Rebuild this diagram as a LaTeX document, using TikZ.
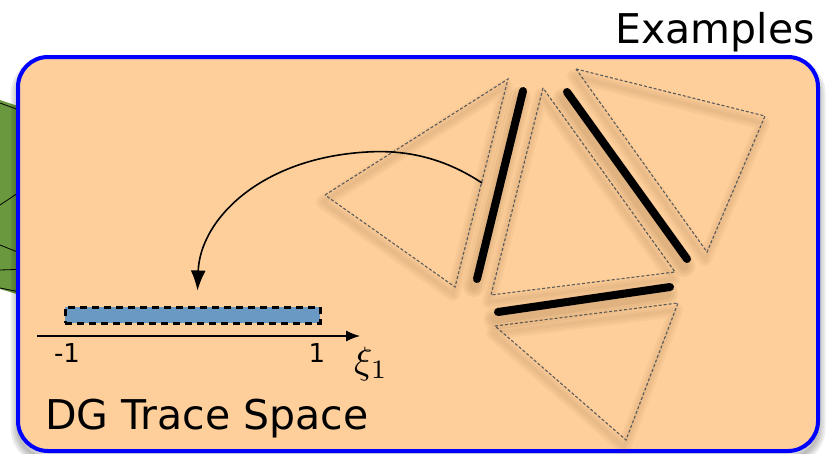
\documentclass[tikz,border=0pt]{standalone}
\usepackage{fontspec}
\setmainfont{DejaVu Sans}
\usetikzlibrary{arrows.meta,calc}
\definecolor{Peach}{HTML}{FECF9B}
\definecolor{FrameBlue}{HTML}{0000FF}
\definecolor{BarBlue}{HTML}{6A9AC4}
\definecolor{MeshGreen}{HTML}{6A983E}
\definecolor{EdgeGray}{HTML}{5A5A5A}
\definecolor{ShadowBrown}{HTML}{7A5020}
\newcommand{\elemtri}[3]{%
  \foreach \w in {4,9,14} \draw[ShadowBrown, opacity=.05, line width=\w pt, line join=round, shift={(-2,7)}] #1 -- #2 -- #3 -- cycle;
  \draw[elem] #1 -- #2 -- #3 -- cycle;}
\newcommand{\traceline}[2]{%
  \foreach \w in {10,16,22} \draw[ShadowBrown, opacity=.08, line width=\w pt, line cap=round, shift={(-3,7)}] #1 -- #2;
  \draw[trace] #1 -- #2;}

\begin{document}
\begin{tikzpicture}[x=1pt, y=-1pt, >=Latex,
  elem/.style={EdgeGray, line width=1.1pt, dash pattern=on 3pt off 2pt},
  trace/.style={black, line width=8pt, line cap=round},
  big/.style={font=\fontsize{41}{49}\selectfont, inner sep=0pt},
  tick/.style={font=\fontsize{26}{30}\selectfont, inner sep=0pt}]
\useasboundingbox (0,0) rectangle (828,453);
\fill[MeshGreen] (0,100) -- (30,110) -- (30,298) -- (0,289) -- cycle;
\draw[black, line width=0.8pt] (0,103) -- (30,114) (0,205) -- (30,185) (0,245) -- (30,257) (0,270) -- (30,269) (0,288) -- (30,294);
\foreach \w in {3,7,11,15} \draw[black, opacity=.07, line width=\w pt, rounded corners=30pt] (18,64) rectangle (818,458);
\node[draw=FrameBlue, line width=4pt, fill=Peach, rounded corners=30pt, minimum width=800pt, minimum height=394pt, inner sep=0pt] (panel) at (418,254) {};
\node[big, anchor=base east] (examples) at (815,43) {Examples};
\node[big, anchor=base west] (dgtrace) at (45,429) {DG Trace Space};
\elemtri{(325,195)}{(508,79)}{(455,287)}
\elemtri{(543,88)}{(491,295)}{(675,272)}
\elemtri{(576,69)}{(765,116)}{(707,252)}
\elemtri{(495,326)}{(678,303)}{(626,440)}
\traceline{(523,91)}{(477,279)}
\traceline{(567,92)}{(687,259)}
\traceline{(498,312)}{(670,287)}
\node[draw=black, fill=BarBlue, line width=3pt, dash pattern=on 7pt off 5pt, minimum width=255pt, minimum height=16pt, inner sep=0pt] (bar) at (192.5,315) {};
\coordinate (axl) at (37,336);
\coordinate (axr) at (360,336);
\draw[line width=1.2pt, -{Latex[length=14pt,width=11pt]}] (axl) -- (axr);
\node[tick, anchor=base] (lo) at (67,362) {-1};
\node[tick, anchor=base] (hi) at (317,362) {1};
\node[anchor=base west, inner sep=0pt] (xi) at (354,373) {\scalebox{3.8}{$\xi_1$}};
\coordinate (src) at (482,183);
\draw[line width=1.6pt, -{Latex[length=20pt,width=15pt]}] (src) .. controls (440,155) and (400,150) .. (367,152) .. controls (260,158) and (200,220) .. ([xshift=5pt,yshift=15pt]bar.north);
\end{tikzpicture}
\end{document}
